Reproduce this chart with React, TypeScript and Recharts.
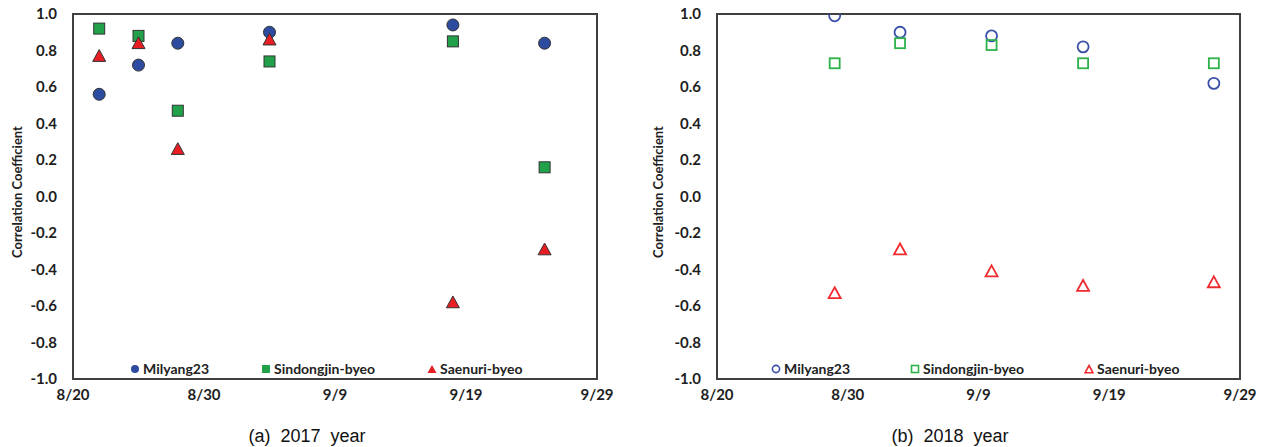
import React from 'react';
import { ScatterChart, Scatter, XAxis, YAxis, ReferenceArea, Legend } from 'recharts';

// ---- data ----
const xTickLabels = ['8/20', '8/30', '9/9', '9/19', '9/29'];
const yTicks = [-1, -0.8, -0.6, -0.4, -0.2, 0, 0.2, 0.4, 0.6, 0.8, 1];
const seriesNames = ['Milyang23', 'Sindongjin-byeo', 'Saenuri-byeo'];

const dates2017 = ['8/22', '8/25', '8/28', '9/4', '9/18', '9/25'];
const milyang2017 = [0.56, 0.72, 0.84, 0.9, 0.94, 0.84];
const sindongjin2017 = [0.92, 0.88, 0.47, 0.74, 0.85, 0.16];
const saenuri2017 = [0.77, 0.84, 0.26, 0.86, -0.58, -0.29];

const dates2018 = ['8/29', '9/3', '9/10', '9/17', '9/27'];
const milyang2018 = [0.99, 0.9, 0.88, 0.82, 0.62];
const sindongjin2018 = [0.73, 0.84, 0.83, 0.73, 0.73];
const saenuri2018 = [-0.53, -0.29, -0.41, -0.49, -0.47];

const captions = ['(a)  2017  year', '(b)  2018  year'];
const yTitle = 'Correlation Coefficient';

// ---- helpers ----
const dayOf = (s: string) => {
  const [m, d] = s.split('/').map(Number);
  return m === 8 ? d - 20 : d + 11; // days since 8/20
};
const xTicks = xTickLabels.map(dayOf);
const build = (dates: string[], vals: number[]) => dates.map((d, i) => ({ x: dayOf(d), y: vals[i] }));

const BLUE = '#2D4B9F';
const GREEN = '#21A24A';
const RED = '#E81E25';
const OBLUE = '#3A50A8';
const OGREEN = '#2DB24A';
const ORED = '#EE2A2E';
const EDGE = '#333333';
const FONT = 'Lato, "Open Sans", sans-serif';

type Kind = 'circle' | 'square' | 'triangle';

const marker = (kind: Kind, cx: number, cy: number, s: number, color: string, filled: boolean) => {
  const fill = filled ? color : 'none';
  const stroke = filled ? EDGE : color;
  const sw = filled ? 1 : 1.8;
  if (kind === 'circle') return <circle cx={cx} cy={cy} r={s / 2} fill={fill} stroke={stroke} strokeWidth={sw} />;
  if (kind === 'square')
    return <rect x={cx - s / 2} y={cy - s / 2} width={s} height={s} fill={fill} stroke={stroke} strokeWidth={sw} />;
  const h = s * 0.9;
  return (
    <path
      d={`M${cx},${cy - h / 2 - 1} L${cx + s / 2 + 0.5},${cy + h / 2} L${cx - s / 2 - 0.5},${cy + h / 2} Z`}
      fill={fill}
      stroke={stroke}
      strokeWidth={sw}
    />
  );
};

const shapeFn = (kind: Kind, color: string, filled: boolean, s: number) => (props: any) =>
  marker(kind, props.cx, props.cy, s, color, filled);

const kinds: Kind[] = ['circle', 'square', 'triangle'];

const legendContent = (colors: string[], filled: boolean, gap: number) => () => (
  <div style={{ display: 'flex', alignItems: 'center', gap, fontFamily: FONT, fontWeight: 700, fontSize: 14, color: '#222', whiteSpace: 'nowrap' }}>
    {seriesNames.map((n, i) => (
      <div key={n} style={{ display: 'flex', alignItems: 'center' }}>
        <svg width={10} height={10} style={{ marginRight: 3 }}>
          {kinds[i] === 'circle'
            ? filled
              ? <circle cx={5} cy={5} r={4} fill={colors[i]} />
              : <circle cx={5} cy={5} r={3.6} fill="none" stroke={colors[i]} strokeWidth={1.6} />
            : kinds[i] === 'square'
            ? filled
              ? <rect x={1} y={1} width={8} height={8} fill={colors[i]} />
              : <rect x={1.5} y={1.5} width={7} height={7} fill="none" stroke={colors[i]} strokeWidth={1.6} />
            : filled
            ? <path d="M5,1 L9.5,9 L0.5,9 Z" fill={colors[i]} />
            : <path d="M5,1.5 L9,8.8 L1,8.8 Z" fill="none" stroke={colors[i]} strokeWidth={1.6} />}
        </svg>
        <span>{n}</span>
      </div>
    ))}
  </div>
);

const tickStyle = { fontFamily: FONT, fontWeight: 700, fontSize: 15, fill: '#1e1e1e' };

interface PanelProps {
  data: { x: number; y: number }[][];
  colors: string[];
  filled: boolean;
  margin: { top: number; right: number; bottom: number; left: number };
  legendLeft: number;
  legendGap: number;
  size: number;
}

const Panel = ({ data, colors, filled, margin, legendLeft, legendGap, size }: PanelProps) => (
  <ScatterChart width={631} height={420} margin={margin}>
    <XAxis
      type="number"
      dataKey="x"
      domain={[0, 40]}
      ticks={xTicks}
      tickFormatter={(v: number) => xTickLabels[xTicks.indexOf(v)]}
      axisLine={false}
      tickLine={false}
      tickSize={0}
      tickMargin={10}
      height={30}
      tick={tickStyle}
      allowDataOverflow
    />
    <YAxis
      type="number"
      dataKey="y"
      domain={[-1, 1]}
      ticks={yTicks}
      tickFormatter={(v: number) => v.toFixed(1)}
      axisLine={false}
      tickLine={false}
      tickSize={0}
      tickMargin={16}
      width={50}
      tick={tickStyle}
      allowDataOverflow
    />
    <ReferenceArea x1={0} x2={40} y1={-1} y2={1} fill="none" fillOpacity={0} stroke="#404040" strokeWidth={2} strokeOpacity={1} />
    {data.map((d, i) => (
      <Scatter
        key={seriesNames[i]}
        name={seriesNames[i]}
        data={d}
        fill={colors[i]}
        shape={shapeFn(kinds[i], colors[i], filled, kinds[i] === 'square' ? size - 1 : size)}
        isAnimationActive={false}
      />
    ))}
    <Legend
      verticalAlign="middle"
      layout="horizontal"
      content={legendContent(colors, filled, legendGap)}
      wrapperStyle={{ top: 360, left: legendLeft, width: 'auto', height: 16 }}
    />
  </ScatterChart>
);

export default function App() {
  const d2017 = [build(dates2017, milyang2017), build(dates2017, sindongjin2017), build(dates2017, saenuri2017)];
  const d2018 = [build(dates2018, milyang2018), build(dates2018, sindongjin2018), build(dates2018, saenuri2018)];
  const titleStyle: React.CSSProperties = {
    position: 'absolute',
    width: 200,
    textAlign: 'center',
    fontFamily: FONT,
    fontWeight: 700,
    fontSize: 13,
    color: '#1e1e1e',
    transform: 'rotate(-90deg)',
    lineHeight: '14px',
  };
  const capStyle: React.CSSProperties = {
    position: 'absolute',
    width: 240,
    textAlign: 'center',
    fontFamily: '"Liberation Sans", Arial, sans-serif',
    fontSize: 18,
    color: '#111',
    whiteSpace: 'pre',
    lineHeight: '20px',
    top: 426,
  };
  return (
    <div style={{ position: 'absolute', left: 0, top: 0, width: 1262, height: 447, background: '#fff', overflow: 'hidden' }}>
      <div style={{ position: 'absolute', left: 0, top: 0 }}>
        <Panel data={d2017} colors={[BLUE, GREEN, RED]} filled margin={{ top: 14, right: 34, bottom: 11, left: 23 }} legendLeft={130} legendGap={52} size={12} />
      </div>
      <div style={{ position: 'absolute', left: 631, top: 0 }}>
        <Panel data={d2018} colors={[OBLUE, OGREEN, ORED]} filled={false} margin={{ top: 14, right: 22, bottom: 11, left: 36 }} legendLeft={140} legendGap={60} size={11} />
      </div>
      <div style={{ ...titleStyle, left: 17 - 100, top: 192 - 7 }}>{yTitle}</div>
      <div style={{ ...titleStyle, left: 658 - 100, top: 192 - 7 }}>{yTitle}</div>
      <div style={{ ...capStyle, left: 307 - 120 }}>{captions[0]}</div>
      <div style={{ ...capStyle, left: 950 - 120 }}>{captions[1]}</div>
    </div>
  );
}
